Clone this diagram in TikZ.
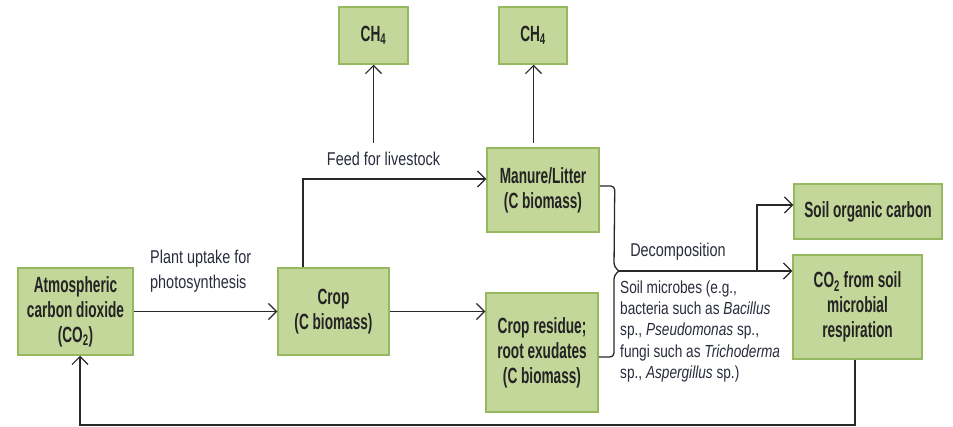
\documentclass[tikz,border=0pt]{standalone}
\usepackage{fontspec}
\setmainfont{Liberation Sans}[FakeStretch=0.62]
\newfontfamily\lblfont{Liberation Sans}[FakeStretch=0.78]
\usetikzlibrary{arrows.meta}
\definecolor{boxfill}{RGB}{196,215,155}
\definecolor{boxline}{RGB}{150,185,95}
\definecolor{txt}{RGB}{35,35,35}
\definecolor{ltxt}{RGB}{40,44,60}
\definecolor{lin}{RGB}{40,40,40}
\tikzset{
  gbox/.style={draw=boxline, fill=boxfill, line width=1.5pt, text=txt, align=center,
    inner sep=0pt, font=\bfseries\fontsize{22}{25}\selectfont},
  arr/.style={draw=lin, line width=1.3pt, -{Straight Barb[length=8pt,width=16pt,line width=1.2pt]}},
  ln/.style={draw=lin, line width=1.3pt},
  lbl/.style={text=ltxt, inner sep=0pt, font=\lblfont\fontsize{18.5}{25}\selectfont, align=left}
}
\begin{document}
\begin{tikzpicture}[x=1pt,y=-1pt]
\useasboundingbox (0,0) rectangle (953,427);
% boxes
\node[gbox, minimum width=115pt, minimum height=87pt] (atm) at (75.5,311.5) {Atmospheric\\carbon dioxide\\(CO\textsubscript{2})};
\node[gbox, minimum width=111pt, minimum height=87pt] (crop) at (333.5,311.5) {Crop\\(C biomass)};
\node[gbox, minimum width=69pt, minimum height=57pt] (ch4a) at (373.5,35.5) {CH\textsubscript{4}};
\node[gbox, minimum width=68pt, minimum height=57pt] (ch4b) at (533,35.5) {CH\textsubscript{4}};
\node[gbox, minimum width=112pt, minimum height=84pt] (manure) at (543,190) {Manure/Litter\\(C biomass)};
\node[gbox, minimum width=112pt, minimum height=119pt] (residue) at (542,352.5) {Crop residue;\\root exudates\\(C biomass)};
\node[gbox, minimum width=148pt, minimum height=55pt] (soc) at (868,211.5) {Soil organic carbon};
\node[gbox, minimum width=129pt, minimum height=104pt] (co2s) at (857.5,307) {CO\textsubscript{2} from soil\\microbial\\respiration};
% labels
\node[lbl, anchor=north west] (lplant) at (150,249.5) {Plant uptake for\\photosynthesis};
\node[lbl, anchor=base] (lfeed) at (383.5,166) {Feed for livestock};
\node[lbl, anchor=base] (ldec) at (678,257) {Decomposition};
\node[lbl, anchor=north west, font=\lblfont\fontsize{17.5}{21.3}\selectfont] (lmic) at (620,280.5) {Soil microbes (e.g.,\\bacteria such as \textit{Bacillus}\\sp., \textit{Pseudomonas} sp.,\\fungi such as \textit{Trichoderma}\\sp., \textit{Aspergillus} sp.)};
% coordinates
\coordinate (f1) at (373.5,143);
\coordinate (f2) at (533.5,143);
\coordinate (tip) at (619,271);
\coordinate (br) at (757,271);
\coordinate (r1) at (855,425);
\coordinate (r2) at (80,425);
% connectors
\draw[arr] (atm) -- (crop);
\draw[arr] (crop.east) -- (crop.east -| residue.west);
\draw[arr] ([xshift=-30.5pt]crop.north) |- ([yshift=11pt]manure.west);
\draw[arr] (f1) -- (ch4a.south -| f1);
\draw[arr] (f2) -- (ch4b.south -| f2);
\draw[ln, rounded corners=4pt] ([yshift=4pt]manure.east) -- ++(15,0) -- (614,267) -- (tip);
\draw[ln, rounded corners=4pt] (tip) -- (614,275) -- (614,357) -- (residue.east |- 0,357);
\draw[arr] (tip) -- (tip -| co2s.west);
\draw[arr] (br) |- ([yshift=6.5pt]soc.west);
\draw[arr] (co2s.south -| r1) -- (r1) -- (r2) -- (r2 |- atm.south);
\end{tikzpicture}
\end{document}
